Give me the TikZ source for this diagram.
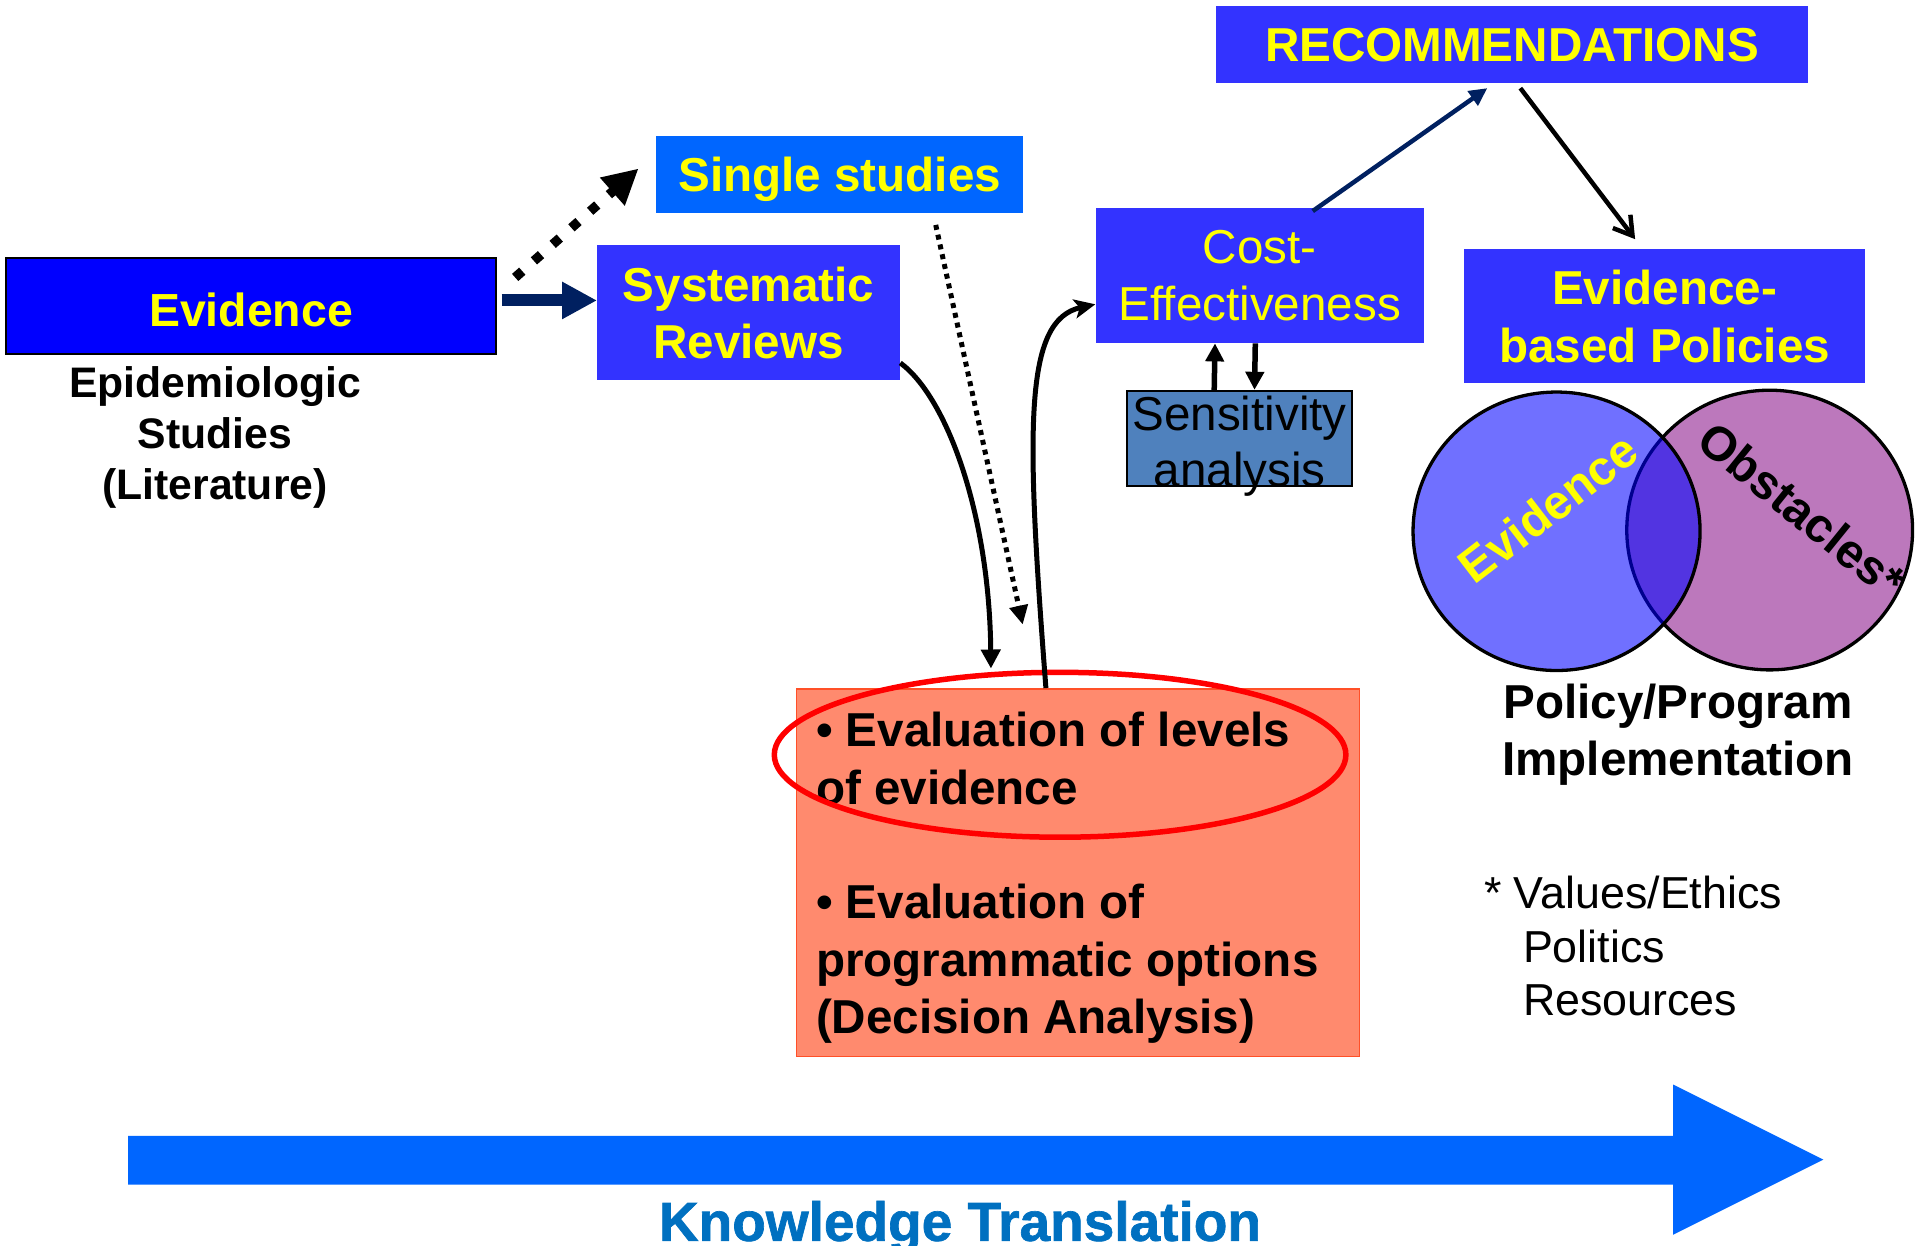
\documentclass[tikz,border=0pt]{standalone}
\usepackage{fontspec}
\setmainfont{Liberation Sans}
\newfontfamily\ktfont{Liberation Sans}[BoldFeatures={FakeBold=1.2}]
\usetikzlibrary{arrows.meta,calc}
\definecolor{evblue}{HTML}{0000FF}
\definecolor{ssblue}{HTML}{0066FF}
\definecolor{bxblue}{HTML}{3333FF}
\definecolor{sensblue}{HTML}{4F81BD}
\definecolor{navy}{HTML}{002060}
\definecolor{salmon}{HTML}{FF8A6E}
\definecolor{salmonedge}{HTML}{FF5028}
\definecolor{venpurple}{HTML}{BC78BC}
\definecolor{ktblue}{HTML}{0070C0}
\definecolor{yel}{HTML}{FFFF00}
\tikzset{
  wh/.style 2 args={minimum width=#1*1.2213pt, minimum height=#2*1.2213pt},
  bx/.style={rectangle, inner sep=0pt, align=center, text=yel, text depth=0pt},
  txt/.style={inner sep=0pt, text depth=0pt},
  hb/.style={font=\fontsize{47.6pt}{57.4pt}\selectfont\bfseries},
  hr/.style={font=\fontsize{47.6pt}{57.4pt}\selectfont},
  blk/.style={draw=black, line width=5pt},
}
\begin{document}
\begin{tikzpicture}[x=1.2213pt,y=-1.2213pt]
\useasboundingbox (0,0) rectangle (1568,1020);

% knowledge translation arrow
\fill[ssblue] (105,930) -- (1370,930) -- (1370,888) -- (1493,949.5) -- (1370,1011) -- (1370,970) -- (105,970) -- cycle;
\node[anchor=base, inner sep=0pt, text=ktblue, font=\fontsize{55pt}{66pt}\selectfont\ktfont\bfseries] (kt) at (786,1016) {Knowledge Translation};

% boxes
\node[bx, wh={401}{79}, fill=evblue, draw=black, line width=2pt, text height=41pt, font=\fontsize{46.4pt}{55pt}\selectfont\bfseries] (ev) at (205.5,250.5) {Evidence};
\node[txt, align=center, font=\fontsize{42.7pt}{50.7pt}\selectfont\bfseries] (epi) at (176,354.5) {Epidemiologic\\Studies\\(Literature)};

\node[bx, hb, wh={301}{63}, fill=ssblue] (ss) at (687.5,142.5) {Single studies};
\node[bx, hb, wh={248}{110}, fill=bxblue] (sr) at (613,256) {Systematic\\Reviews};
\node[bx, hr, wh={269}{111}, fill=bxblue] (ce) at (1031.5,225.5) {Cost-\\Effectiveness};
\node[bx, hb, wh={484}{63}, fill=bxblue] (rec) at (1238,36.5) {RECOMMENDATIONS};
\node[bx, hb, wh={328}{110}, fill=bxblue] (ebp) at (1363,259) {Evidence-\\based Policies};

\node[rectangle, wh={184}{78}, fill=sensblue, draw=black, line width=2pt] (sens) at (1015,359) {};
\node[txt, align=center, font=\fontsize{47.6pt}{56.2pt}\selectfont] (senst) at (1015,361) {Sensitivity\\analysis};

% orange box
\node[rectangle, wh={461}{301}, fill=salmon, draw=salmonedge, line width=1.5pt] (ob) at (882.5,714.5) {};
\node[anchor=north west, align=left, inner sep=0pt, hb] (obt) at (668,583) {• Evaluation of levels\\of evidence\\[57.4pt]• Evaluation of\\programmatic options\\(Decision Analysis)};
\draw[red, line width=5.5pt] (868,618) ellipse [x radius=234, y radius=67.5];

% Venn
\draw[fill=venpurple, line width=3.3pt] (1449,434) ellipse [x radius=117, y radius=114.5];
\draw[fill=evblue, fill opacity=0.56, line width=3.3pt] (1274.5,435) ellipse [x radius=117.5, y radius=114];
\node[rotate=37.5, inner sep=0pt, text=yel, font=\fontsize{48pt}{58pt}\selectfont\bfseries] (vev) at (1267.5,416) {Evidence};
\node[rotate=-39, inner sep=0pt, font=\fontsize{48pt}{58pt}\selectfont\bfseries] (vob) at (1475.5,417.6) {Obstacles*};

\node[txt, align=center, hb] (ppi) at (1374,597.5) {Policy/Program\\Implementation};
\node[anchor=north west, align=left, inner sep=0pt, font=\fontsize{44.8pt}{53.7pt}\selectfont] (vals) at (1215,717) {* Values/Ethics\\\hspace*{39pt}Politics\\\hspace*{39pt}Resources};

% connectors
\coordinate (a1) at ($(ev.east)+(4,-4.5)$);
\draw[navy, line width=12pt, -{Triangle[length=35pt,width=35pt]}] (a1) -- (a1 -| sr.west);
\draw[black, line width=9.5pt, dash pattern=on 9.5pt off 15.5pt, -{Triangle[length=35pt,width=35pt]}] ($(ev.north east)+(15,17)$) -- ($(ss.west)+(-14,-4.5)$);

\coordinate (srend) at ($(ob.north west)+(160,-16)$);
\draw[blk, -{Triangle[length=19pt,width=19pt]}] ($(sr.south east)+(0,-14)$) .. controls (775,325) and (810,420) .. (srend);

\coordinate (ssend) at ($(ob.north west)+(186,-52)$);
\draw[black, line width=5pt, dash pattern=on 5pt off 5pt, -{Triangle[length=19pt,width=18pt]}] ($(ss.south east)+(-72,10)$) -- (ssend);

\draw[blk, -{Stealth[length=21pt,width=19pt,inset=5pt]}] ($(ob.north west)+(205,0)$) .. controls (840,350) and (838,262) .. ($(ce.south west)+(0,-32)$);

\draw[blk, line width=5.5pt, -{Triangle[length=18pt,width=18pt]}] ($(sens.north west)+(72,0)$) -- ($(ce.south west)+(98,0)$);
\draw[blk, line width=5.5pt, -{Triangle[length=18pt,width=18pt]}] ($(ce.south west)+(131,0)$) -- ($(sens.north west)+(105,0)$);

\draw[navy, line width=4.5pt, -{Triangle[length=18pt,width=17pt]}] ($(ce.north west)+(178,3)$) -- ($(rec.south west)+(222,4)$);
\draw[black, line width=4.5pt, -{Straight Barb[length=18pt,width=22pt]}] ($(rec.south west)+(249,4)$) -- ($(ebp.north west)+(140,-8)$);
\end{tikzpicture}
\end{document}
